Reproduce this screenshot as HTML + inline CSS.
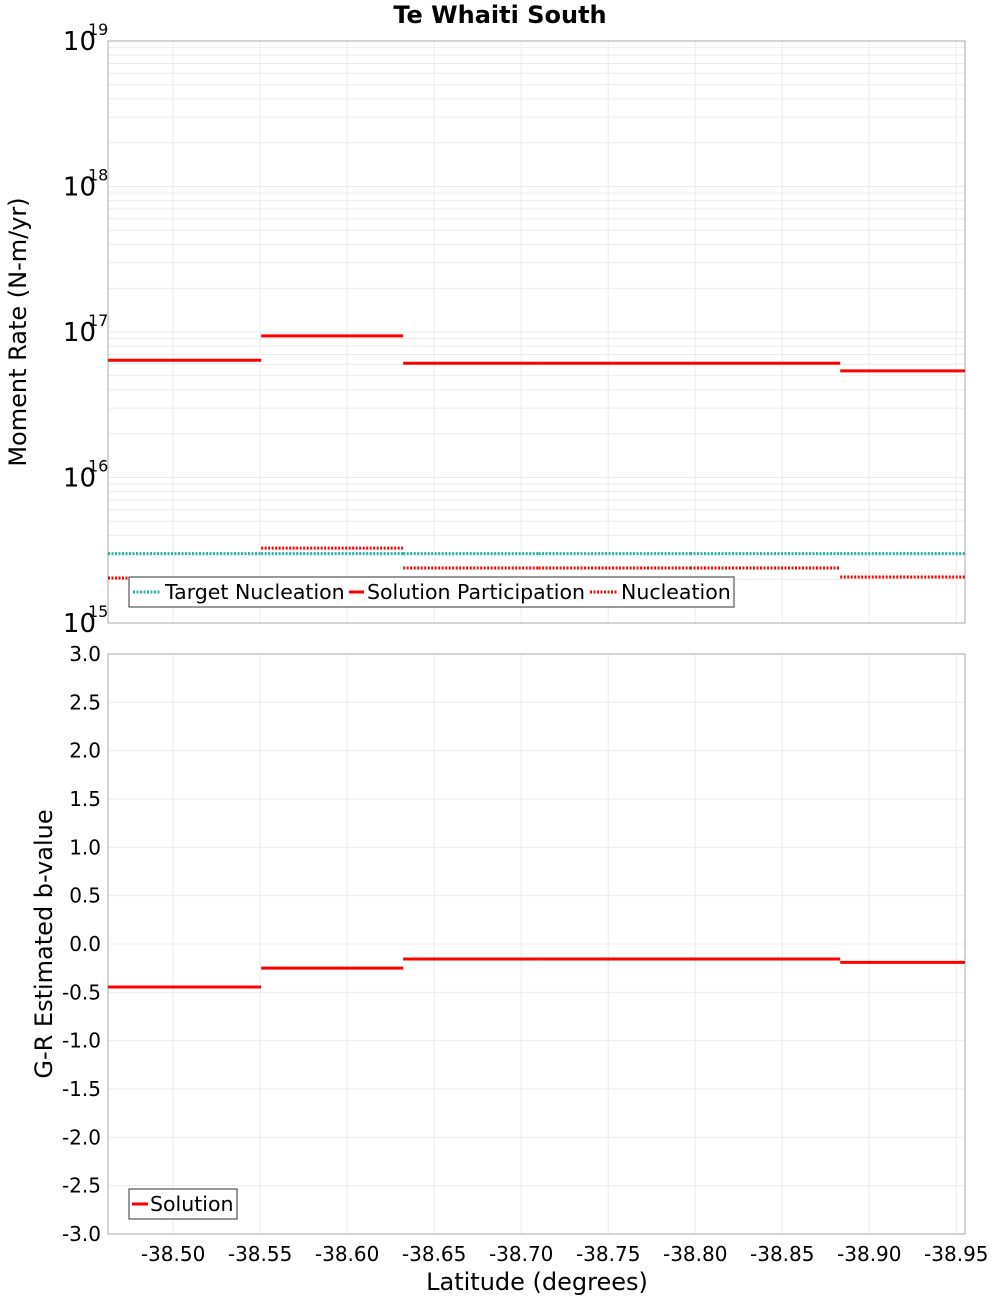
<!DOCTYPE html>
<html><head><meta charset="utf-8"><style>
body{margin:0;background:#fff}
svg{font-family:"DejaVu Sans","Liberation Sans",sans-serif}
</style></head><body>
<svg id="c" width="1000" height="1300" xmlns="http://www.w3.org/2000/svg"></svg>
<script>
const segEdges=[-38.4626,-38.5506,-38.6322,-38.7100,-38.7970,-38.8833,-38.955];
const participation=[6.4e16,9.4e16,6.1e16,6.1e16,6.1e16,5.4e16];
const targetNucleation=[3.0e15,3.0e15,3.0e15,3.0e15,3.0e15,3.0e15];
const nucleation=[2.04e15,3.27e15,2.39e15,2.39e15,2.39e15,2.07e15];
const bValues=[-0.445,-0.25,-0.155,-0.155,-0.155,-0.19];
const xTicks=[-38.50,-38.55,-38.60,-38.65,-38.70,-38.75,-38.80,-38.85,-38.90,-38.95];
const logTicks=[15,16,17,18,19];
const bTicks=[3.0,2.5,2.0,1.5,1.0,0.5,0.0,-0.5,-1.0,-1.5,-2.0,-2.5,-3.0];

const svg=document.getElementById('c');
const NS='http://www.w3.org/2000/svg';
function mk(tag,attrs,parent,text){const e=document.createElementNS(NS,tag);for(const k in attrs)e.setAttribute(k,attrs[k]);if(text!==undefined)e.textContent=text;(parent||svg).appendChild(e);return e;}
const L=108,R=965;
const xs=v=>L+(v-segEdges[0])/(segEdges[segEdges.length-1]-segEdges[0])*(R-L);
const T1=41,B1=623;
const ys1=v=>B1-(Math.log10(v)-15)/4*(B1-T1);
const T2=654,B2=1234;
const ys2=v=>T2+(3-v)/6*(B2-T2);

let t=mk('text',{x:500,y:23,'text-anchor':'middle','font-size':24,'font-weight':'bold'},svg,'Te Whaiti South');


const g1=mk('g',{});
for(let d=15;d<19;d++)for(let m=1;m<10;m++){const y=ys1(m*Math.pow(10,d));mk('line',{x1:L,x2:R,y1:y,y2:y,stroke:'#ebebeb','stroke-width':1},g1);}
const g2=mk('g',{});
bTicks.forEach(v=>{const y=ys2(v);mk('line',{x1:L,x2:R,y1:y,y2:y,stroke:'#ebebeb'},g2);});
xTicks.forEach(v=>{const x=xs(v);mk('line',{x1:x,x2:x,y1:T1,y2:B1,stroke:'#ebebeb'},g1);mk('line',{x1:x,x2:x,y1:T2,y2:B2,stroke:'#ebebeb'},g2);});

let f=mk('rect',{x:L,y:T1,width:R-L,height:B1-T1,fill:'none',stroke:'#aaa'});
f=mk('rect',{x:L,y:T2,width:R-L,height:B2-T2,fill:'none',stroke:'#aaa'});

logTicks.forEach(d=>{const y=ys1(Math.pow(10,d));
 const tx=mk('text',{x:96,y:y+9,'text-anchor':'end','font-size':26});tx.textContent='10';
 
 const s=mk('text',{x:88,y:y-6,'font-size':16},svg,String(d));
 });
bTicks.forEach(v=>{const y=ys2(v);const tx=mk('text',{x:101,y:y+7,'text-anchor':'end','font-size':20},svg,v.toFixed(1));
 });
xTicks.forEach(v=>{const tx=mk('text',{x:xs(v),y:1261,'text-anchor':'middle','font-size':20},svg,v.toFixed(2));
 });

t=mk('text',{x:537,y:1290,'text-anchor':'middle','font-size':24},svg,'Latitude (degrees)');

t=mk('text',{transform:'translate(26,332) rotate(-90)','text-anchor':'middle','font-size':24},svg,'Moment Rate (N-m/yr)');

t=mk('text',{transform:'translate(52,944) rotate(-90)','text-anchor':'middle','font-size':24},svg,'G-R Estimated b-value');


function steps(vals,ys,color,dash,name){
 const g=mk('g',{});
 vals.forEach((v,i)=>{const y=ys(v);const a={x1:xs(segEdges[i]),x2:xs(segEdges[i+1]),y1:y,y2:y,stroke:color,'stroke-width':3};if(dash)a['stroke-dasharray']=dash;
  const l=mk('line',a,g);});
}
steps(targetNucleation,ys1,'#20b2aa','2 1.5','target-nucleation-series');
steps(participation,ys1,'#ff0000',null,'solution-participation-series');
steps(nucleation,ys1,'#ff0000','2 1.5','nucleation-series');
steps(bValues,ys2,'#ff0000',null,'solution-b-value-series');

const lg=mk('g',{});
mk('rect',{x:129,y:577,width:605,height:30,fill:'#fff',stroke:'#555','stroke-width':1.2},lg);
mk('line',{x1:133,x2:160,y1:592,y2:592,stroke:'#20b2aa','stroke-width':3,'stroke-dasharray':'2 1.5'},lg);
mk('text',{x:165,y:599,'font-size':20.5},lg,'Target Nucleation');
mk('line',{x1:349,x2:364,y1:592,y2:592,stroke:'#f00','stroke-width':3},lg);
mk('text',{x:367,y:599,'font-size':20.5},lg,'Solution Participation');
mk('line',{x1:590,x2:618,y1:592,y2:592,stroke:'#f00','stroke-width':3,'stroke-dasharray':'2 1.5'},lg);
mk('text',{x:621,y:599,'font-size':20.5},lg,'Nucleation');
const lg2=mk('g',{});
mk('rect',{x:129,y:1189,width:108,height:30,fill:'#fff',stroke:'#555','stroke-width':1.2},lg2);
mk('line',{x1:132,x2:148,y1:1204,y2:1204,stroke:'#f00','stroke-width':3},lg2);
mk('text',{x:150,y:1211,'font-size':20.5},lg2,'Solution');
</script>
</body></html>
